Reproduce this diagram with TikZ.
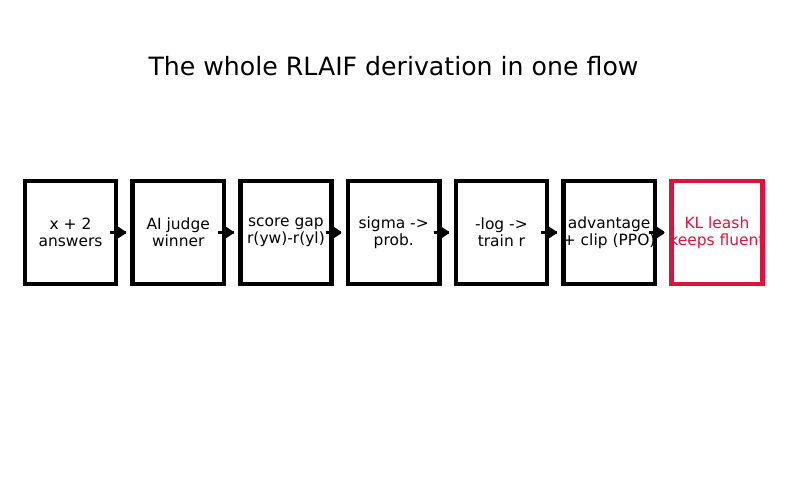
\documentclass[tikz,border=0pt]{standalone}
\usepackage{fontspec}
\setmainfont{DejaVu Sans}
\usetikzlibrary{positioning,arrows.meta,decorations.markings}

\definecolor{leashred}{RGB}{220,20,60}

\tikzset{
    stepbox/.style={draw, line width=3.3pt, minimum width=68.4pt, minimum height=77pt,
        inner sep=0pt, align=center, font=\fontsize{11.6}{12.7}\selectfont},
    flow/.style={line width=2.5pt, shorten <=-6pt, shorten >=3.5pt,
        postaction={decorate},
        decoration={markings, mark=at position 0.62 with {\arrow{Triangle[length=8pt, width=10pt, round]}}}}
}

\newcommand{\twolines}[2]{\makebox[0pt]{#1}\\\makebox[0pt]{#2}}

\begin{document}
\begin{tikzpicture}[x=0.75pt, y=-0.75pt]
        % canvas
        \useasboundingbox (0,0) rectangle (787,480);

        % Title
        \node[font=\fontsize{18.9}{22}\selectfont] (title) at (393.5,66) {The whole RLAIF derivation in one flow};

        % Boxes
        \node[stepbox] (answers) at (70.5,232.5) {\twolines{x + 2}{answers}};
        \node[stepbox, right=9.1pt of answers] (judge) {\twolines{AI judge}{winner}};
        \node[stepbox, right=9.1pt of judge] (gap) {\twolines{score gap}{r(yw)-r(yl)}};
        \node[stepbox, right=9.1pt of gap] (sigma) {\twolines{sigma ->}{prob.}};
        \node[stepbox, right=9.1pt of sigma] (train) {\twolines{-log ->}{train r}};
        \node[stepbox, right=9.1pt of train] (ppo) {\twolines{advantage}{+ clip (PPO)}};
        \node[stepbox, draw=leashred, text=leashred, right=9.1pt of ppo] (leash) {\twolines{KL leash}{keeps fluent}};

        % Arrows
        \draw[flow] (answers) -- (judge);
        \draw[flow] (judge) -- (gap);
        \draw[flow] (gap) -- (sigma);
        \draw[flow] (sigma) -- (train);
        \draw[flow] (train) -- (ppo);
        \draw[flow] (ppo) -- (leash);
\end{tikzpicture}
\end{document}
